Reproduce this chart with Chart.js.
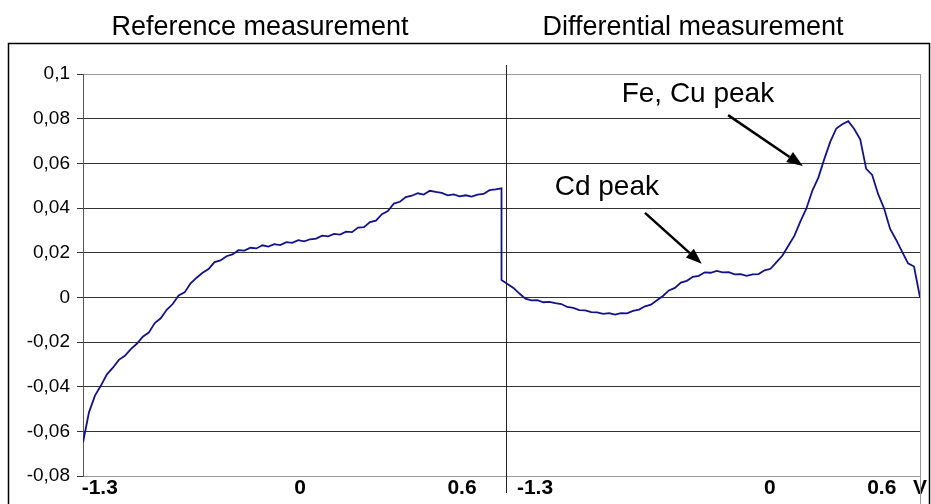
<!DOCTYPE html>
<html>
<head>
<meta charset="utf-8">
<script src="https://cdn.jsdelivr.net/npm/chart.js@4.4.1/dist/chart.umd.min.js"></script>
<style>
  html, body { margin: 0; padding: 0; background: #fff; }
  #wrap { width: 931px; height: 504px; position: relative; }
</style>
</head>
<body>
<div id="wrap"><canvas id="chart"></canvas></div>
<script>
// reference sweep at equal sample steps
const refCurrent = [
  -0.065, -0.0515, -0.0440, -0.0395, -0.0345, -0.0315, -0.0280, -0.0262, -0.0232, -0.0208,
  -0.0176, -0.0158, -0.0115, -0.0094, -0.0056, -0.0030, 0.0008, 0.0022, 0.0063, 0.0088,
  0.0110, 0.0127, 0.0158, 0.0165, 0.0184, 0.0192, 0.0211, 0.0209, 0.0222, 0.0219,
  0.0233, 0.0227, 0.0238, 0.0234, 0.0247, 0.0244, 0.0256, 0.0251, 0.0260, 0.0263,
  0.0276, 0.0273, 0.0284, 0.0281, 0.0294, 0.0292, 0.0312, 0.0314, 0.0337, 0.0343,
  0.0372, 0.0386, 0.0420, 0.0428, 0.0449, 0.0455, 0.0466, 0.0460, 0.0477, 0.0472,
  0.0468, 0.0457, 0.0461, 0.0452, 0.0457, 0.0451, 0.0460, 0.0463, 0.0480, 0.0483, 0.0488
];
// differential sweep
const diffCurrent = [
  0.0078, 0.0060, 0.0042, 0.0017, -0.0006, -0.0014, -0.0013, -0.0022, -0.0020, -0.0026,
  -0.0030, -0.0043, -0.0047, -0.0057, -0.0058, -0.0066, -0.0067, -0.0074, -0.0071, -0.0077,
  -0.0071, -0.0072, -0.0061, -0.0055, -0.0040, -0.0033, -0.0013, 0.0006, 0.0031, 0.0042,
  0.0066, 0.0074, 0.0092, 0.0096, 0.0112, 0.0110, 0.0118, 0.0112, 0.0113, 0.0103,
  0.0104, 0.0096, 0.0103, 0.0104, 0.0121, 0.0128, 0.0158, 0.0187, 0.0232, 0.0276,
  0.0340, 0.0398, 0.0478, 0.0536, 0.0620, 0.0697, 0.0756, 0.0775, 0.0789, 0.0754,
  0.0708, 0.0575, 0.0548, 0.0462, 0.0398, 0.0306, 0.0258, 0.0205, 0.0152, 0.0138, 0.0
];
const splitAt = 70.75; // sample where the second measurement starts
const xTickPos = [2.8, 36.3, 63.4, 75.6, 114.9, 133.6, 140];
const xTickLabels = ['-1.3', '0', '0.6', '-1.3', '0', '0.6', 'V'];
const panelTitles = ['Reference measurement', 'Differential measurement'];
const peakNotes = [
  { text: 'Fe, Cu peak', x: 90.1, y: 0.0874, from: [107.9, 0.0816], to: [120.4, 0.0588] },
  { text: 'Cd peak', x: 78.9, y: 0.0458, from: [94, 0.0378], to: [103.5, 0.015] }
];

const points = [];
refCurrent.forEach((v, i) => points.push({ x: i, y: v }));
diffCurrent.forEach((v, j) => points.push({ x: refCurrent.length - 1 + j, y: v }));

const FONT = '"Liberation Sans", Arial, sans-serif';

function drawArrow(ctx, x1, y1, x2, y2) {
  const ang = Math.atan2(y2 - y1, x2 - x1);
  const head = 16, half = 6;
  const bx = x2 - head * Math.cos(ang), by = y2 - head * Math.sin(ang);
  ctx.beginPath();
  ctx.moveTo(x1, y1);
  ctx.lineTo(bx, by);
  ctx.lineWidth = 2.5;
  ctx.strokeStyle = '#000';
  ctx.stroke();
  ctx.beginPath();
  ctx.moveTo(x2, y2);
  ctx.lineTo(bx + half * Math.sin(ang), by - half * Math.cos(ang));
  ctx.lineTo(bx - half * Math.sin(ang), by + half * Math.cos(ang));
  ctx.closePath();
  ctx.fillStyle = '#000';
  ctx.fill();
}

const extras = {
  id: 'extras',
  afterDraw(chart) {
    const ctx = chart.ctx;
    const xs = chart.scales.x, ys = chart.scales.y;
    const area = chart.chartArea;
    ctx.save();
    // outer frame
    ctx.strokeStyle = '#000';
    ctx.lineWidth = 1.5;
    ctx.beginPath();
    ctx.moveTo(8.5, 504);
    ctx.lineTo(8.5, 43.5);
    ctx.lineTo(929.5, 43.5);
    ctx.lineTo(929.5, 504);
    ctx.stroke();
    // right edge of plot
    ctx.strokeStyle = '#999';
    ctx.lineWidth = 1;
    ctx.beginPath();
    ctx.moveTo(area.right + 0.5, area.top);
    ctx.lineTo(area.right + 0.5, 504);
    ctx.stroke();
    // divider between the two sweeps
    const sx = Math.round(xs.getPixelForValue(splitAt)) + 0.5;
    ctx.strokeStyle = '#222';
    ctx.beginPath();
    ctx.moveTo(sx, area.top - 9);
    ctx.lineTo(sx, area.bottom + 17);
    ctx.stroke();
    // titles
    ctx.fillStyle = '#000';
    ctx.font = '27px ' + FONT;
    ctx.textAlign = 'center';
    ctx.textBaseline = 'alphabetic';
    ctx.fillText(panelTitles[0], 260, 35);
    ctx.fillText(panelTitles[1], 693, 35);
    // peak notes
    ctx.font = '28px ' + FONT;
    ctx.textAlign = 'left';
    peakNotes.forEach(n => {
      ctx.fillText(n.text, xs.getPixelForValue(n.x), ys.getPixelForValue(n.y));
      drawArrow(ctx,
        xs.getPixelForValue(n.from[0]), ys.getPixelForValue(n.from[1]),
        xs.getPixelForValue(n.to[0]), ys.getPixelForValue(n.to[1]));
    });
    ctx.restore();
  }
};

new Chart(document.getElementById('chart'), {
  type: 'line',
  data: {
    datasets: [{
      data: points,
      borderColor: '#12128a',
      borderWidth: 1.8,
      pointRadius: 0,
      tension: 0,
      fill: false
    }]
  },
  options: {
    responsive: true,
    maintainAspectRatio: false,
    animation: false,
    layout: { padding: { top: 74, right: 11, left: 0, bottom: 0 } },
    plugins: { legend: { display: false }, tooltip: { enabled: false } },
    scales: {
      x: {
        type: 'linear',
        min: 0,
        max: 140,
        afterBuildTicks: (scale) => { scale.ticks = xTickPos.map(v => ({ value: v })); },
        afterFit: (scale) => { scale.height = 28; },
        grid: { display: false, drawTicks: false },
        border: { display: true, color: '#999', width: 1 },
        ticks: {
          autoSkip: false,
          maxRotation: 0,
          padding: 0,
          color: '#000',
          font: { family: FONT, size: 21, weight: 'bold' },
          callback: (value, index) => xTickLabels[index]
        }
      },
      y: {
        min: -0.08,
        max: 0.1,
        afterFit: (scale) => { scale.width = 83; },
        grid: {
          color: (c) => (c.tick && (c.tick.value > 0.099 || c.tick.value < -0.079)) ? '#a0a0a0' : '#333',
          tickColor: '#333',
          tickLength: 6,
          lineWidth: 1
        },
        border: { display: true, color: '#555', width: 1 },
        ticks: {
          stepSize: 0.02,
          padding: 7,
          color: '#000',
          font: { family: FONT, size: 19 },
          callback: (v) => String(Number(v.toFixed(2))).replace('.', ',')
        }
      }
    }
  },
  plugins: [extras]
});
</script>
</body>
</html>
